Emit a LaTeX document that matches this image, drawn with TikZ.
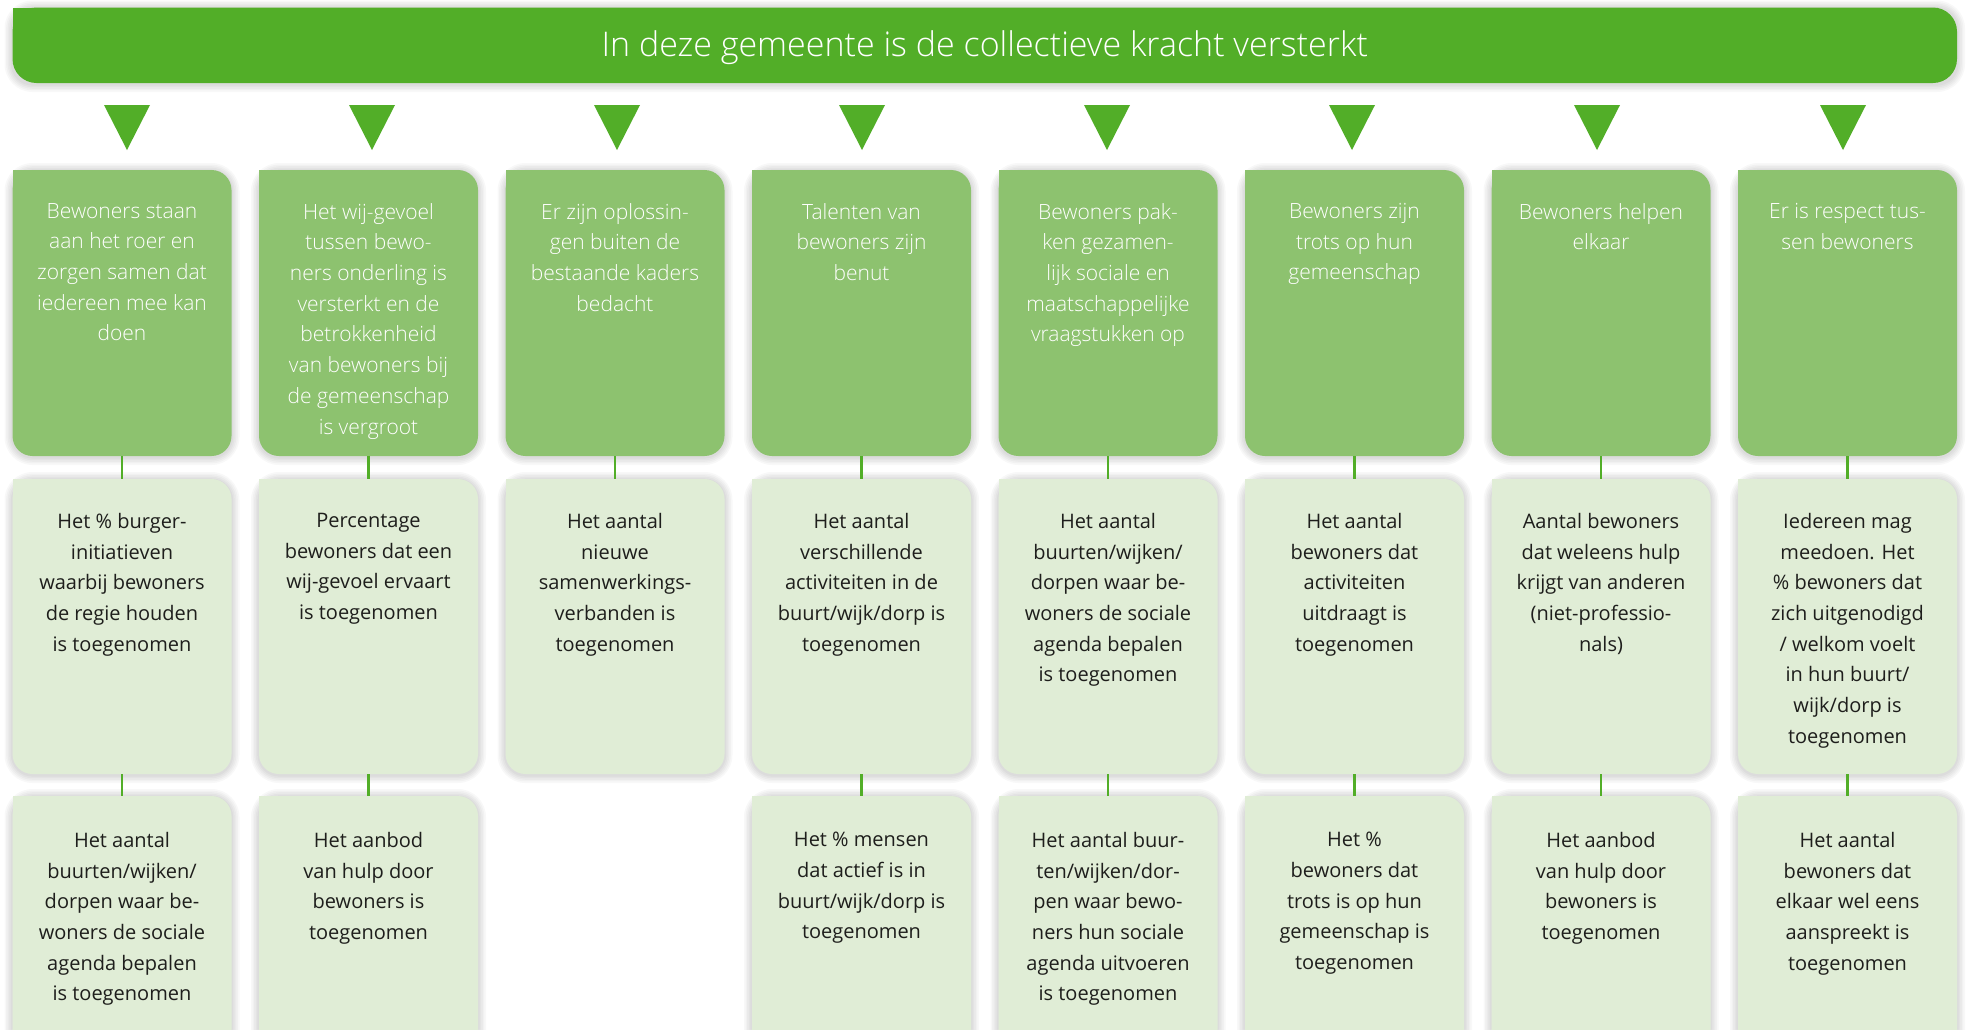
\documentclass[tikz,border=0pt]{standalone}
\usepackage{fontspec}
\setmainfont{Open Sans}
\newfontfamily\lightfont{Open Sans Light}
\usetikzlibrary{backgrounds}
\definecolor{hdr}{HTML}{52AE28}
\definecolor{dark}{HTML}{8DC26F}
\definecolor{light}{HTML}{E0EDD6}
\definecolor{ink}{HTML}{1E1E1C}
\tikzset{
  card/.style={inner sep=0pt, outer sep=0pt, rounded corners=20pt, minimum width=219pt, anchor=north west},
  goal/.style={card, fill=dark, minimum height=286pt},
  ind/.style={card, fill=light, minimum height=295pt},
  indlow/.style={card, fill=light, minimum height=270pt},
  gtext/.style={align=center, text=white, font=\lightfont\fontsize{21}{30.7}\selectfont, inner sep=0pt, anchor=north},
  itext/.style={align=center, text=ink, font=\fontsize{20}{30.7}\selectfont, inner sep=0pt, anchor=north},
  link/.style={draw=hdr, line width=2.6pt},
  tri/.style={fill=hdr},
  glowlayer/.style={fill=black, fill opacity=0.028},
}
\newcommand\sharpgoal[1]{\fill[dark] (#1.north west) rectangle ++(20,20);}
\newcommand\sharpind[1]{\fill[light] (#1.north west) rectangle ++(20,20);}
\newcommand\glow[1]{%
  \foreach \k in {1,...,5}{%
    \fill[glowlayer, rounded corners=20pt+1.6*\k pt]
      ([shift={(-1.6*\k,-1.6*\k+1)}]#1.north west) rectangle ([shift={(1.6*\k,1.6*\k+1)}]#1.south east);}}
\begin{document}
\begin{tikzpicture}[x=1pt,y=-1pt]
\useasboundingbox (0,0) rectangle (1966,1029);

% header
\node[inner sep=0pt, outer sep=0pt, anchor=north west, fill=hdr, rounded corners=24pt,
  minimum width=1944.5pt, minimum height=75.5pt]
  (head) at (12.5,7.5) {};
\fill[hdr] (head.north west) rectangle ++(24,24);
\node[text=white, font=\lightfont\fontsize{34}{40}\selectfont, inner sep=0pt, anchor=base] (headtxt) at ([yshift=-11.5pt]head.center)
  {In deze gemeente is de collectieve kracht versterkt};

% triangles
\foreach \c in {127,372,617,862,1107,1352,1597,1843}
  \fill[tri] (\c-23,105) -- (\c+23,105) -- (\c,150) -- cycle;

% row 1 boxes
\node[goal] (g1) at (12.5,170) {};
\node[goal] (g2) at (259,170) {};
\node[goal] (g3) at (505.5,170) {};
\node[goal] (g4) at (752,170) {};
\node[goal] (g5) at (998.5,170) {};
\node[goal] (g6) at (1245,170) {};
\node[goal] (g7) at (1491.5,170) {};
\node[goal] (g8) at (1738,170) {};
\foreach \n in {g1,g2,g3,g4,g5,g6,g7,g8} {\sharpgoal{\n}}

% row 2 boxes
\node[ind] (m1) at (12.5,479) {};
\node[ind] (m2) at (259,479) {};
\node[ind] (m3) at (505.5,479) {};
\node[ind] (m4) at (752,479) {};
\node[ind] (m5) at (998.5,479) {};
\node[ind] (m6) at (1245,479) {};
\node[ind] (m7) at (1491.5,479) {};
\node[ind] (m8) at (1738,479) {};
\foreach \n in {m1,m2,m3,m4,m5,m6,m7,m8} {\sharpind{\n}}

% row 3 boxes
\node[indlow] (l1) at (12.5,796) {};
\node[indlow] (l2) at (259,796) {};
\node[indlow] (l4) at (752,796) {};
\node[indlow] (l5) at (998.5,796) {};
\node[indlow] (l6) at (1245,796) {};
\node[indlow] (l7) at (1491.5,796) {};
\node[indlow] (l8) at (1738,796) {};
\foreach \n in {l1,l2,l4,l5,l6,l7,l8} {\sharpind{\n}}

% soft shadows behind everything
\begin{scope}[on background layer]
  \fill[white] (0,0) rectangle (1966,1029);
  \glow{head}
  \foreach \n in {g1,g2,g3,g4,g5,g6,g7,g8,m1,m2,m3,m4,m5,m6,m7,m8,l1,l2,l4,l5,l6,l7,l8} {\glow{\n}}
\end{scope}

% connectors
\foreach \i in {1,...,8} {\draw[link] (g\i.south) -- (m\i.north);}
\foreach \i in {1,2,4,5,6,7,8} {\draw[link] (m\i.south) -- (l\i.north);}

% row 1 texts
\node[gtext] (tg1) at ([yshift=-33pt]g1.north) {Bewoners staan\\aan het roer en\\zorgen samen dat\\iedereen mee kan\\doen};
\node[gtext] (tg2) at ([yshift=-33pt]g2.north) {Het wij-gevoel\\tussen bewo-\\ners onderling is\\versterkt en de\\betrokkenheid\\van bewoners bij\\de gemeenschap\\is vergroot};
\node[gtext] (tg3) at ([yshift=-33pt]g3.north) {Er zijn oplossin-\\gen buiten de\\bestaande kaders\\bedacht};
\node[gtext] (tg4) at ([yshift=-33pt]g4.north) {Talenten van\\bewoners zijn\\benut};
\node[gtext] (tg5) at ([yshift=-33pt]g5.north) {Bewoners pak-\\ken gezamen-\\lijk sociale en\\maatschappelijke\\vraagstukken op};
\node[gtext] (tg6) at ([yshift=-33pt]g6.north) {Bewoners zijn\\trots op hun\\gemeenschap};
\node[gtext] (tg7) at ([yshift=-33pt]g7.north) {Bewoners helpen\\elkaar};
\node[gtext] (tg8) at ([yshift=-33pt]g8.north) {Er is respect tus-\\sen bewoners};

% row 2 texts
\node[itext] (tm1) at ([yshift=-34pt]m1.north) {Het \% burger-\\initiatieven\\waarbij bewoners\\de regie houden\\is toegenomen};
\node[itext] (tm2) at ([yshift=-34pt]m2.north) {Percentage\\bewoners dat een\\wij-gevoel ervaart\\is toegenomen};
\node[itext] (tm3) at ([yshift=-34pt]m3.north) {Het aantal\\nieuwe\\samenwerkings-\\verbanden is\\toegenomen};
\node[itext] (tm4) at ([yshift=-34pt]m4.north) {Het aantal\\verschillende\\activiteiten in de\\buurt/wijk/dorp is\\toegenomen};
\node[itext] (tm5) at ([yshift=-34pt]m5.north) {Het aantal\\buurten/wijken/\\dorpen waar be-\\woners de sociale\\agenda bepalen\\is toegenomen};
\node[itext] (tm6) at ([yshift=-34pt]m6.north) {Het aantal\\bewoners dat\\activiteiten\\uitdraagt is\\toegenomen};
\node[itext] (tm7) at ([yshift=-34pt]m7.north) {Aantal bewoners\\dat weleens hulp\\krijgt van anderen\\(niet-professio-\\nals)};
\node[itext] (tm8) at ([yshift=-34pt]m8.north) {Iedereen mag\\meedoen. Het\\\% bewoners dat\\zich uitgenodigd\\/ welkom voelt\\in hun buurt/\\wijk/dorp is\\toegenomen};

% row 3 texts
\node[itext] (tl1) at ([yshift=-36pt]l1.north) {Het aantal\\buurten/wijken/\\dorpen waar be-\\woners de sociale\\agenda bepalen\\is toegenomen};
\node[itext] (tl2) at ([yshift=-36pt]l2.north) {Het aanbod\\van hulp door\\bewoners is\\toegenomen};
\node[itext] (tl4) at ([yshift=-36pt]l4.north) {Het \% mensen\\dat actief is in\\buurt/wijk/dorp is\\toegenomen};
\node[itext] (tl5) at ([yshift=-36pt]l5.north) {Het aantal buur-\\ten/wijken/dor-\\pen waar bewo-\\ners hun sociale\\agenda uitvoeren\\is toegenomen};
\node[itext] (tl6) at ([yshift=-36pt]l6.north) {Het \%\\bewoners dat\\trots is op hun\\gemeenschap is\\toegenomen};
\node[itext] (tl7) at ([yshift=-36pt]l7.north) {Het aanbod\\van hulp door\\bewoners is\\toegenomen};
\node[itext] (tl8) at ([yshift=-36pt]l8.north) {Het aantal\\bewoners dat\\elkaar wel eens\\aanspreekt is\\toegenomen};
\end{tikzpicture}
\end{document}
